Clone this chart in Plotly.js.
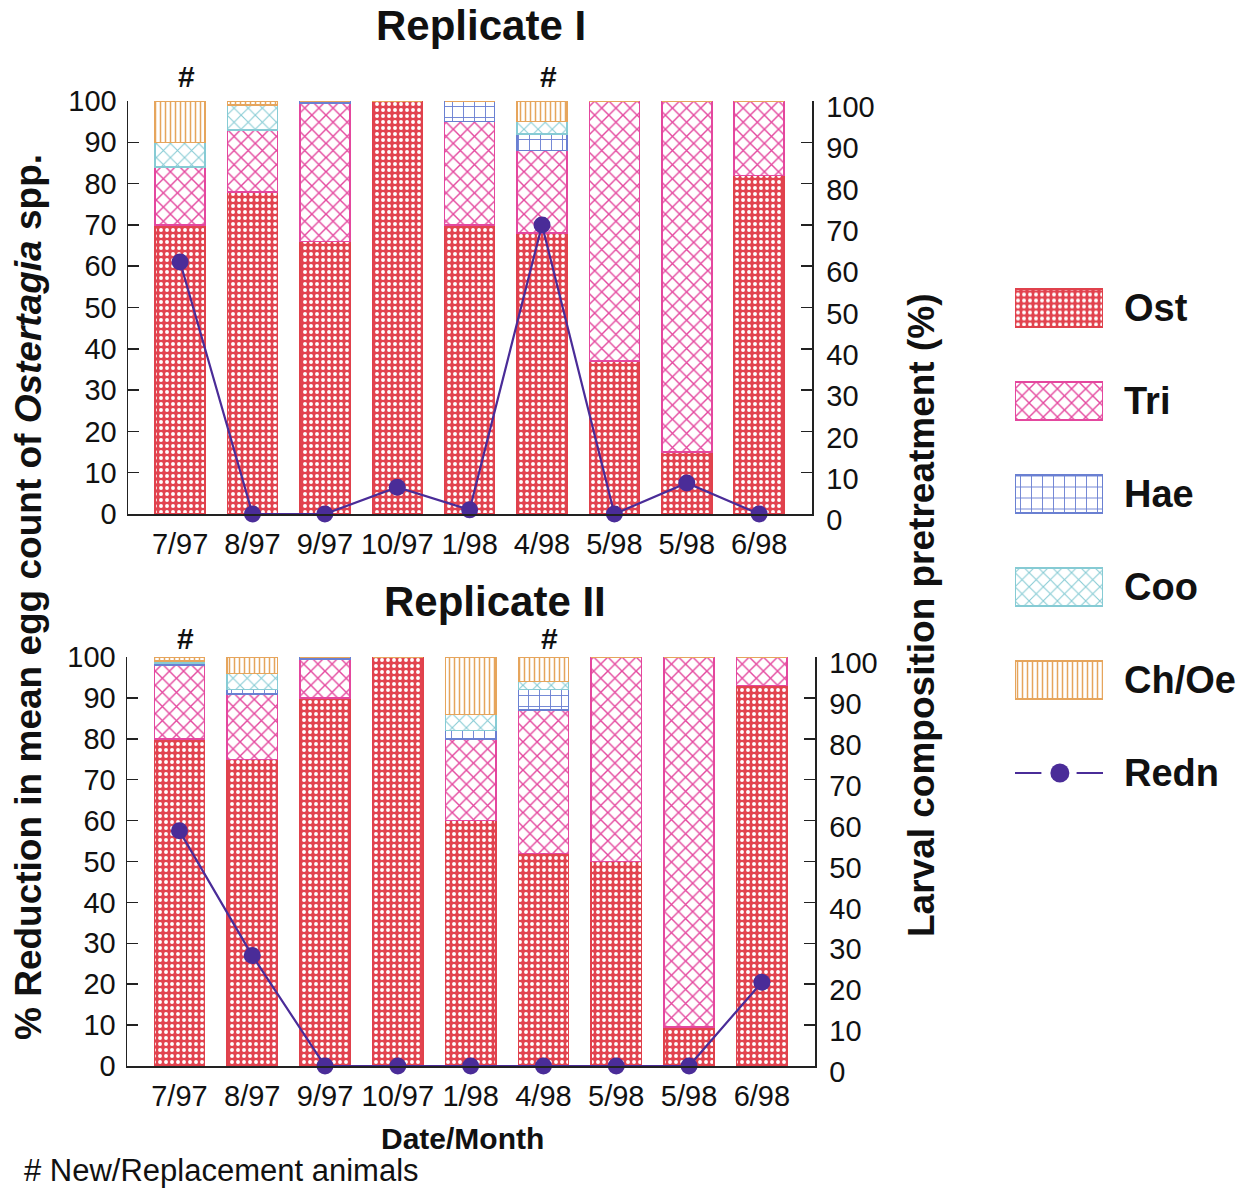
<!DOCTYPE html>
<html><head><meta charset="utf-8">
<script src="https://cdn.plot.ly/plotly-3.0.1.min.js"></script>
<style>html,body{margin:0;padding:0;background:#fff}</style>
</head><body><div id="chart" style="width:1248px;height:1189px"></div>
<script>
// ---- data ----
const dates = ['7/97','8/97','9/97','10/97','1/98','4/98','5/98','5/98','6/98'];
// Replicate I : larval composition (%)
const ostI  = [70, 78, 66, 100, 70, 68, 37, 15, 82];
const triI  = [14, 15, 33.5, 0, 25, 20, 63, 85, 18];
const haeI  = [0, 0, 0.5, 0, 5, 4, 0, 0, 0];
const cooI  = [6, 6, 0, 0, 0, 3, 0, 0, 0];
const chOeI = [10, 1, 0, 0, 0, 5, 0, 0, 0];
// Replicate I : % reduction in mean egg count
const rednI = [61, 0, 0, 6.5, 1, 70, 0, 7.5, 0];
// Replicate II
const ostII  = [80, 75, 90, 100, 60, 52, 50, 9.5, 93];
const triII  = [18, 16, 9.5, 0, 20, 35, 50, 90.5, 7];
const haeII  = [0.5, 1, 0.5, 0, 2, 5, 0, 0, 0];
const cooII  = [0.5, 4, 0, 0, 4, 2, 0, 0, 0];
const chOeII = [1, 4, 0, 0, 14, 6, 0, 0, 0];
const rednII = [57.5, 27, 0, 0, 0, 0, 0, 0, 20.5];
// new / replacement animals (date index)
const newAnimalIdx = [0, 5];
const legendNames = ['Ost','Tri','Hae','Coo','Ch/Oe','Redn'];
const yTicks = [0,10,20,30,40,50,60,70,80,90,100];

// ---- styles ----
const FONT = 'Liberation Sans, Arial, Helvetica, sans-serif';
const W = 1248, H = 1189;
const px = v => v / W, py = v => 1 - v / H;
const LINEC = '#4a2c98';
const styles = {
  'Ost':   {line:'#e0414c', pattern:{shape:'.', bgcolor:'#e2434f', fgcolor:'#ffffff', size:6, solidity:0.33}},
  'Tri':   {line:'#e4479e', pattern:{shape:'x', bgcolor:'#ffffff', fgcolor:'#e4479e', size:10, solidity:0.26}},
  'Hae':   {line:'#6a80d2', pattern:{shape:'+', bgcolor:'#ffffff', fgcolor:'#6a80d2', size:11, solidity:0.16}},
  'Coo':   {line:'#86cbd4', pattern:{shape:'x', bgcolor:'#ffffff', fgcolor:'#86cbd4', size:10, solidity:0.2}},
  'Ch/Oe': {line:'#e6a55c', pattern:{shape:'|', bgcolor:'#ffffff', fgcolor:'#e6a55c', size:5, solidity:0.3}}
};
const idx = dates.map((d, i) => i);

function barTrace(name, vals, xa, ya) {
  const s = styles[name];
  return {type:'bar', name:name, x:idx, y:vals, xaxis:xa, yaxis:ya, width:0.69,
    marker:{color:s.pattern.bgcolor, line:{color:s.line, width:1.5}, pattern:s.pattern},
    showlegend:false, hoverinfo:'skip'};
}
function lineTrace(vals, xa, ya) {
  return {type:'scatter', mode:'lines+markers', x:idx, y:vals, xaxis:xa, yaxis:ya,
    line:{color:LINEC, width:2.2}, marker:{color:LINEC, size:17}, cliponaxis:false,
    showlegend:false, hoverinfo:'skip'};
}

const rep = [
  {series:{'Ost':ostI,'Tri':triI,'Hae':haeI,'Coo':cooI,'Ch/Oe':chOeI}, redn:rednI, xa:'x', yb:'y', yl:'y2'},
  {series:{'Ost':ostII,'Tri':triII,'Hae':haeII,'Coo':cooII,'Ch/Oe':chOeII}, redn:rednII, xa:'x2', yb:'y3', yl:'y4'}
];
const data = [];
rep.forEach(r => {
  Object.keys(r.series).forEach(k => data.push(barTrace(k, r.series[k], r.xa, r.yb)));
  data.push(lineTrace(r.redn, r.xa, r.yl));
});
// legend key (drawn as its own small subplot)
Object.keys(styles).forEach(k => {
  const s = styles[k];
  data.push({type:'bar', orientation:'h', x:[1], y:[k], base:0, width:0.41, xaxis:'x3', yaxis:'y5',
    marker:{color:s.pattern.bgcolor, line:{color:s.line, width:1.5}, pattern:s.pattern},
    showlegend:false, hoverinfo:'skip'});
});
data.push({type:'scatter', mode:'lines', x:[0,0.3,null,0.7,1], y:['Redn','Redn',null,'Redn','Redn'],
  xaxis:'x3', yaxis:'y5', line:{color:LINEC, width:2}, showlegend:false, hoverinfo:'skip', cliponaxis:false});
data.push({type:'scatter', mode:'markers', x:[0.51], y:['Redn'], xaxis:'x3', yaxis:'y5',
  marker:{color:LINEC, size:19}, showlegend:false, hoverinfo:'skip', cliponaxis:false});

const tickFont = {family:FONT, size:29, color:'#111'};
function xAx(d0, d1, anchor) {
  return {domain:[px(d0), px(d1)], anchor:anchor, range:[-0.72, 8.73], tickvals:idx, ticktext:dates,
    ticks:'', showline:true, linecolor:'#222', linewidth:1.5, showgrid:false, zeroline:false,
    tickfont:tickFont, ticklabelstandoff:4, fixedrange:true};
}
function yAx(top, bot, anchor, side, overlay) {
  const a = {domain:[py(bot), py(top)], anchor:anchor, side:side, range:[0,100], tickvals:yTicks,
    ticks:'inside', ticklen:11, tickwidth:1.5, tickcolor:'#222', showline:true, linecolor:'#222', linewidth:1.5,
    showgrid:false, zeroline:false, tickfont:tickFont, ticklabelstandoff:side === 'right' ? 7 : 4};
  if (side === 'right') a.ticklabelshift = 6;
  if (overlay) { a.overlaying = overlay; delete a.domain; }
  return a;
}

const annotations = [
  {text:'<b>Replicate I</b>', x:px(481), y:py(26)},
  {text:'<b>Replicate II</b>', x:px(495), y:py(601)},
].map(a => Object.assign(a, {xref:'paper', yref:'paper', showarrow:false, xanchor:'center', yanchor:'middle',
  font:{family:FONT, size:42, color:'#111'}}));
annotations.push({text:'<b>% Reduction in mean egg count of <i>Ostertagia</i> spp.</b>', textangle:-90,
  x:px(28), y:py(597), xref:'paper', yref:'paper', showarrow:false, xanchor:'center', yanchor:'middle',
  font:{family:FONT, size:37, color:'#111'}});
annotations.push({text:'<b>Larval composition pretreatment (%)</b>', textangle:-90,
  x:px(921), y:py(615), xref:'paper', yref:'paper', showarrow:false, xanchor:'center', yanchor:'middle',
  font:{family:FONT, size:37, color:'#111'}});
annotations.push({text:'<b>Date/Month</b>', x:px(462), y:py(1138), xref:'paper', yref:'paper', showarrow:false,
  xanchor:'center', yanchor:'middle', font:{family:FONT, size:30, color:'#111'}});
annotations.push({text:'# New/Replacement animals', x:px(22), y:py(1170), xref:'paper', yref:'paper', showarrow:false,
  xanchor:'left', yanchor:'middle', font:{family:FONT, size:31, color:'#111'}});
[['x','y',24],['x2','y3',19]].forEach(([xa, ya, sh]) => {
  newAnimalIdx.forEach(i => annotations.push({text:'<b>#</b>', x:i, y:100, xref:xa, yref:ya, showarrow:false,
    xanchor:'center', yanchor:'middle', xshift:6, yshift:sh, font:{family:FONT, size:30, color:'#111'}}));
});

const layout = {
  width:W, height:H, margin:{l:0, r:0, t:0, b:0}, paper_bgcolor:'#fff', plot_bgcolor:'rgba(0,0,0,0)',
  barmode:'stack', showlegend:false, font:{family:FONT, color:'#111'},
  xaxis:xAx(128, 812, 'y'),
  yaxis:yAx(101, 514, 'x', 'right'),
  yaxis2:yAx(101, 514, 'x', 'left', 'y'),
  xaxis2:xAx(127, 815, 'y3'),
  yaxis3:yAx(657, 1066, 'x2', 'right'),
  yaxis4:yAx(657, 1066, 'x2', 'left', 'y3'),
  xaxis3:{domain:[px(1015), px(1103)], anchor:'y5', range:[0,1], visible:false, fixedrange:true},
  yaxis5:{domain:[py(819.5), py(261.5)], anchor:'x3', side:'right', type:'category', categoryorder:'array',
    categoryarray:legendNames, range:[5.5,-0.5], ticks:'', showline:false, showgrid:false, zeroline:false,
    tickfont:{family:FONT, size:38, color:'#111', weight:'bold'}, ticklabelstandoff:20, fixedrange:true},
  annotations:annotations
};
Plotly.newPlot('chart', data, layout, {staticPlot:true, displayModeBar:false});
</script></body></html>
